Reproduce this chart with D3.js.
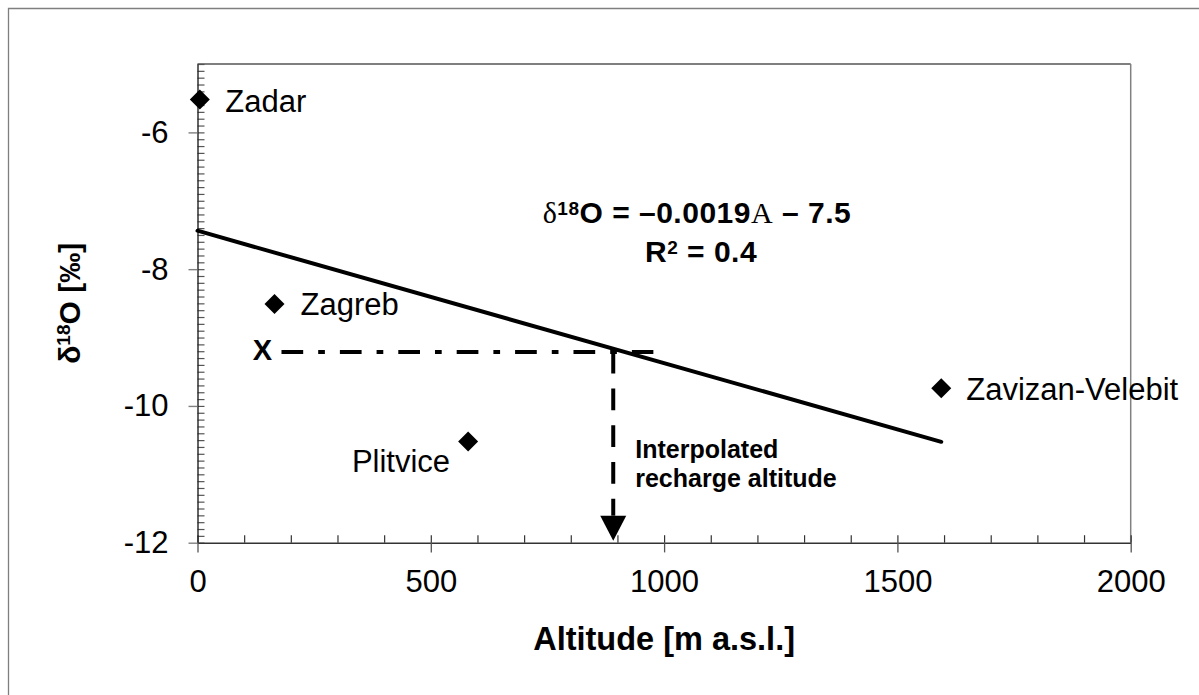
<!DOCTYPE html>
<html>
<head>
<meta charset="utf-8">
<script src="https://cdn.jsdelivr.net/npm/d3@7"></script>
<style>
  body { margin: 0; background: white; }
  svg { display: block; font-family: "Liberation Sans", Arial, sans-serif; }
</style>
</head>
<body>
<script>
const width = 1199;
const height = 695;

// Data
const stations = ["Zadar", "Zagreb", "Plitvice", "Zavizan-Velebit"];
const altitude = [5, 165, 580, 1594];
const d18O = [-5.52, -8.51, -10.52, -9.74];

// interpolation annotation (sample value X and its altitude)
const sampleX = [-9.21];
const rechargeAlt = [891];
const sampleSpan = [180, 977];

const xTicks = [0, 500, 1000, 1500, 2000];
const yTicks = [-12, -10, -8, -6];

// label offsets per station
const labelDx = [25.5, 26, -18, 25];
const labelDy = [12, 11, 31, 12];
const labelAnchor = ["start", "start", "end", "start"];

const svg = d3.select("body")
  .append("svg")
  .attr("width", width)
  .attr("height", height);

// outer frame (only left/top visible)
svg.append("path")
  .attr("d", "M8.5,720V8.5H1230")
  .attr("fill", "none")
  .attr("stroke", "#7f7f7f")
  .attr("stroke-width", 1.3);

const x = d3.scaleLinear().domain([0, 2000]).range([197.5, 1130.7]);
const y = d3.scaleLinear().domain([-12, -5]).range([542.7, 64]);

// plot border: top black, right grey
svg.append("line")
  .attr("x1", x(0)).attr("x2", x(2000))
  .attr("y1", y(-5)).attr("y2", y(-5))
  .attr("stroke", "black").attr("stroke-width", 1.2);
svg.append("line")
  .attr("x1", x(2000)).attr("x2", x(2000))
  .attr("y1", y(-5)).attr("y2", y(-12))
  .attr("stroke", "#808080").attr("stroke-width", 1.5);

// minor ticks (inside)
const yMinor = d3.range(-120, -49).map(d => d / 10);
const xMinor = d3.range(0, 2001, 100);

svg.append("g")
  .attr("transform", `translate(${x(0)},0)`)
  .call(d3.axisRight(y).tickValues(yMinor).tickSize(7).tickFormat(""))
  .call(g => g.select(".domain").remove())
  .call(g => g.selectAll("line").attr("stroke", "#555").attr("stroke-width", 1.2));

svg.append("g")
  .attr("transform", `translate(0,${y(-12)})`)
  .call(d3.axisTop(x).tickValues(xMinor).tickSize(7.5).tickFormat(""))
  .call(g => g.select(".domain").remove())
  .call(g => g.selectAll("line").attr("stroke", "#333").attr("stroke-width", 1.2));

// major axes
const yAxis = svg.append("g")
  .attr("transform", `translate(${x(0)},0)`)
  .call(d3.axisLeft(y).tickValues(yTicks).tickSizeInner(9).tickSizeOuter(0)
    .tickPadding(20).tickFormat(d => String(d)));
yAxis.select(".domain").attr("stroke", "#222").attr("stroke-width", 1.4);
yAxis.selectAll(".tick line").attr("stroke", "#808080").attr("stroke-width", 1.4);
yAxis.selectAll(".tick text")
  .attr("font-size", 31)
  .attr("font-family", "Liberation Sans, Arial, sans-serif")
  .attr("fill", "black");

const xAxis = svg.append("g")
  .attr("transform", `translate(0,${y(-12)})`)
  .call(d3.axisBottom(x).tickValues(xTicks).tickSizeInner(9.7).tickSizeOuter(0)
    .tickPadding(18).tickFormat(d => String(d)));
xAxis.select(".domain").attr("stroke", "#333").attr("stroke-width", 1.5);
xAxis.selectAll(".tick line").attr("stroke", "#555").attr("stroke-width", 1.3);
xAxis.selectAll(".tick text")
  .attr("font-size", 31)
  .attr("font-family", "Liberation Sans, Arial, sans-serif")
  .attr("fill", "black");

// axis titles
svg.append("text")
  .attr("x", (x(0) + x(2000)) / 2)
  .attr("y", 650)
  .attr("text-anchor", "middle")
  .attr("font-size", 32.5)
  .attr("font-weight", "bold")
  .text("Altitude [m a.s.l.]");

const yTitle = svg.append("text")
  .attr("transform", `translate(80,${(y(-5) + y(-12)) / 2}) rotate(-90)`)
  .attr("text-anchor", "middle")
  .attr("font-size", 30)
  .attr("font-weight", "bold");
yTitle.append("tspan").text("δ");
yTitle.append("tspan").attr("font-size", 19).attr("dy", -10).text("18");
yTitle.append("tspan").attr("dy", 10).text("O [‰]");

// linear regression from the points
const n = altitude.length;
const mx = d3.mean(altitude);
const my = d3.mean(d18O);
const slope = d3.sum(altitude, (a, i) => (a - mx) * (d18O[i] - my)) /
              d3.sum(altitude, a => (a - mx) * (a - mx));
const intercept = my - slope * mx;
const fitX = [0, d3.max(altitude)];

svg.append("path")
  .datum(fitX)
  .attr("d", d3.line().x(d => x(d)).y(d => y(intercept + slope * d)))
  .attr("fill", "none")
  .attr("stroke", "black")
  .attr("stroke-width", 4)
  .attr("stroke-linecap", "round");

// dash-dot line from X to the fit line
svg.append("line")
  .attr("x1", x(sampleSpan[0])).attr("x2", x(sampleSpan[1]))
  .attr("y1", y(sampleX[0])).attr("y2", y(sampleX[0]))
  .attr("stroke", "black")
  .attr("stroke-width", 4)
  .attr("stroke-dasharray", "21.7,15,6.7,15");

// dashed drop line + arrow head
const arrowH = 27;
svg.append("line")
  .attr("x1", x(rechargeAlt[0])).attr("x2", x(rechargeAlt[0]))
  .attr("y1", y(sampleX[0])).attr("y2", y(-12) - arrowH)
  .attr("stroke", "black")
  .attr("stroke-width", 4)
  .attr("stroke-dasharray", "21.7,15");

const head = d3.path();
head.moveTo(x(rechargeAlt[0]) - 13, y(-12) - arrowH);
head.lineTo(x(rechargeAlt[0]) + 13, y(-12) - arrowH);
head.lineTo(x(rechargeAlt[0]), y(-12) - 2);
head.closePath();
svg.append("path").attr("d", head.toString()).attr("fill", "black");

svg.append("text")
  .attr("x", x(sampleSpan[0]) - 19)
  .attr("y", y(sampleX[0]) + 8.5)
  .attr("text-anchor", "middle")
  .attr("font-size", 29)
  .attr("font-weight", "bold")
  .text("X");

const note = svg.append("text")
  .attr("x", x(rechargeAlt[0]) + 22)
  .attr("y", 458)
  .attr("font-size", 25)
  .attr("font-weight", "bold");
note.append("tspan").text("Interpolated");
note.append("tspan").attr("x", x(rechargeAlt[0]) + 22).attr("dy", 28.5).text("recharge altitude");

// equation
const eq = svg.append("text")
  .attr("x", 542.7)
  .attr("y", 222.7)
  .attr("font-size", 30)
  .attr("font-weight", "bold")
  .attr("letter-spacing", 0.5);
eq.append("tspan").attr("font-family", "Liberation Serif, serif").attr("font-weight", "normal").text("δ");
eq.append("tspan").attr("font-size", 19).attr("dy", -8).text("18");
eq.append("tspan").attr("dy", 8).text("O = –0.0019");
eq.append("tspan").attr("font-family", "Liberation Serif, serif").attr("font-weight", "normal").text("A");
eq.append("tspan").text(" – 7.5");

const r2 = svg.append("text")
  .attr("x", 645)
  .attr("y", 262)
  .attr("font-size", 30)
  .attr("font-weight", "bold")
  .attr("letter-spacing", 0.5);
r2.append("tspan").text("R");
r2.append("tspan").attr("font-size", 19).attr("dy", -8).text("2");
r2.append("tspan").attr("dy", 8).text(" = 0.4");

// station points
const idx = d3.range(n);
svg.selectAll(".pt")
  .data(idx)
  .enter()
  .append("path")
  .attr("class", "pt")
  .attr("d", d3.symbol(d3.symbolSquare, 200))
  .attr("transform", i => `translate(${x(altitude[i])},${y(d18O[i])}) rotate(45)`)
  .attr("fill", "black");

svg.selectAll(".lbl")
  .data(idx)
  .enter()
  .append("text")
  .attr("class", "lbl")
  .attr("x", i => x(altitude[i]) + labelDx[i])
  .attr("y", i => y(d18O[i]) + labelDy[i])
  .attr("text-anchor", i => labelAnchor[i])
  .attr("font-size", 31)
  .text(i => stations[i]);
</script>
</body>
</html>
